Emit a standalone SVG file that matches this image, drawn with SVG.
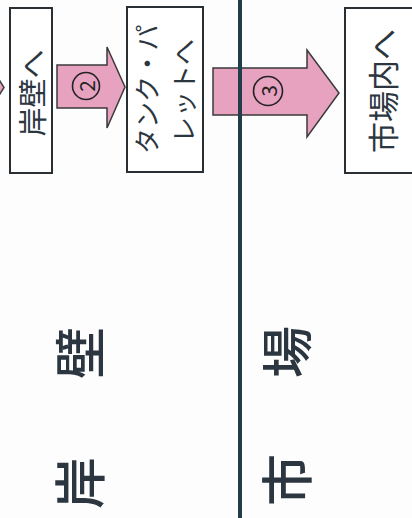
<svg xmlns="http://www.w3.org/2000/svg" width="412" height="518" viewBox="0 0 412 518">
<style>
.box{fill:#fff;stroke:#2a2f33;stroke-width:2}
.arr{fill:#e7a2c0;stroke:#3a3a3a;stroke-width:1.5;stroke-linejoin:miter}
.t{font-family:"Noto Sans CJK JP","Noto Sans",sans-serif;fill:#2b3640;text-anchor:middle;dominant-baseline:central}
.big{font-size:52px;font-weight:500}
.lbl{font-size:29px}
.num{font-size:21px;fill:#222}
.ring{fill:none;stroke:#222;stroke-width:1.6}
</style>
<rect width="412" height="518" fill="#fdfdfd"/>
<g id="connectors">
<polygon class="arr" points="-2,78 4,87.5 -2,97"/>
<polygon class="arr" points="57,65 107,65 107,47 125,87 107,128 107,108 57,108"/>
<polygon class="arr" points="213,68 307,68 307,50 339,93 307,137 307,115 213,115"/>
<line x1="240" y1="0" x2="240" y2="518" stroke="#233c4a" stroke-width="4"/>
<circle class="ring" cx="86" cy="86" r="13.5"/>
<text class="t num" transform="translate(86,86) rotate(-90)">2</text>
<circle class="ring" cx="268" cy="91" r="14.5"/>
<text class="t num" transform="translate(268,91) rotate(-90)">3</text>
</g>
<g id="node-gankai">
<rect class="box" x="10" y="8" width="42" height="165"/>
<text class="t lbl" transform="translate(31,93) rotate(-90)">岸壁へ</text>
</g>
<g id="node-tank">
<rect class="box" x="127" y="7" width="76" height="165"/>
<text class="t" style="font-size:26px;text-anchor:start" transform="translate(145,154) rotate(-90)">タンク・パ</text>
<text class="t" style="font-size:26px;text-anchor:start" transform="translate(182,143) rotate(-90)">レットへ</text>
</g>
<g id="node-shijou">
<rect class="box" x="345" y="8" width="80" height="165"/>
<text class="t" style="font-size:31px" transform="translate(381,91) rotate(-90)">市場内へ</text>
</g>
<g id="label-gan">
<text class="t big" transform="translate(77,353) rotate(-90)">壁</text>
<text class="t big" transform="translate(77,483) rotate(-90)">岸</text>
</g>
<g id="label-shi">
<text class="t big" transform="translate(284,352) rotate(-90)">場</text>
<text class="t big" transform="translate(284,480) rotate(-90)">市</text>
</g>
</svg>
